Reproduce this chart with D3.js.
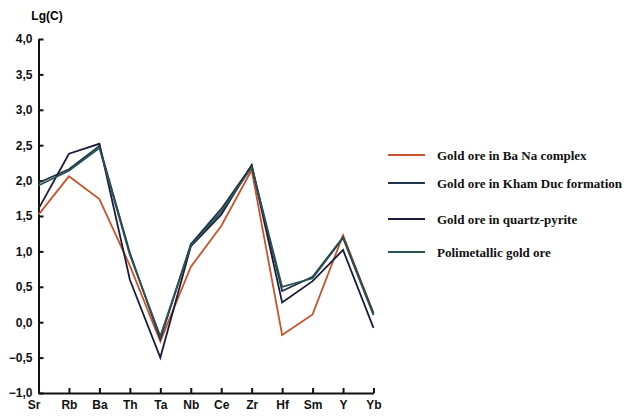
<!DOCTYPE html>
<html>
<head>
<meta charset="utf-8">
<script src="https://cdn.jsdelivr.net/npm/d3@7"></script>
<style>
body { margin:0; background:#fff; }
.axis text { font-family:"Liberation Sans", Arial, sans-serif; font-weight:bold; font-size:12px; fill:#111; }
.axis path, .axis line { stroke:#111; stroke-width:2; }
.legend text { font-family:"Liberation Serif", "Times New Roman", serif; font-weight:bold; font-size:13px; fill:#111; }
</style>
</head>
<body>
<div id="chart"></div>
<script>
var elements = ["Sr","Rb","Ba","Th","Ta","Nb","Ce","Zr","Hf","Sm","Y","Yb"]
var yTicks = [-1,-0.5,0,0.5,1,1.5,2,2.5,3,3.5,4]

var seriesNames = ["Gold ore in Ba Na complex","Gold ore in Kham Duc formation","Gold ore in quartz-pyrite","Polimetallic gold ore"]
var seriesColors = ["#c9532b","#1f3549","#1b1d3c","#2c5354"]

var baNa        = [1.52, 2.06, 1.74, 0.80, -0.27, 0.78, 1.36, 2.15, -0.18, 0.11, 1.23, 0.13]
var khamDuc     = [1.97, 2.16, 2.49, 0.98, -0.24, 1.10, 1.60, 2.21, 0.44, 0.64, 1.20, 0.12]
var quartzPyr   = [1.60, 2.38, 2.52, 0.60, -0.50, 1.07, 1.52, 2.22, 0.28, 0.58, 1.02, -0.08]
var polimetal   = [1.93, 2.14, 2.46, 0.95, -0.20, 1.08, 1.56, 2.19, 0.50, 0.62, 1.19, 0.10]

var series = [baNa, khamDuc, quartzPyr, polimetal]

var width = 629, height = 418
var svg = d3.select("#chart").append("svg").attr("width",width).attr("height",height)

var x = d3.scalePoint().domain(elements).range([38.5,373.5])
var y = d3.scaleLinear().domain([-1,4]).range([393,39])

var fmt = function(d){ return d3.format(".1f")(d).replace(".",",") }

// y axis, ticks pointing inward
var yAxis = svg.append("g").attr("class","axis").attr("transform","translate("+x("Sr")+",0)")
	.call(d3.axisLeft(y).tickValues(yTicks).tickFormat(fmt).tickSizeInner(-5).tickSizeOuter(0).tickPadding(6))

// x axis
var xAxis = svg.append("g").attr("class","axis").attr("transform","translate(0,"+y(-1)+")")
	.call(d3.axisBottom(x).tickSizeInner(-5).tickSizeOuter(0).tickPadding(7))
xAxis.selectAll(".tick").filter(function(d){return d=="Sr"}).select("line").remove()
xAxis.selectAll(".tick").filter(function(d){return d=="Sr"}).select("text").attr("x",-5)

svg.append("text").text("Lg(C)")
	.attr("x",47).attr("y",20)
	.attr("text-anchor","middle")
	.style("font-family","Liberation Sans, Arial, sans-serif")
	.style("font-weight","bold").style("font-size","12px")

var line = d3.line().x(function(d,i){return x(elements[i])}).y(function(d){return y(d)})

series.forEach(function(s,i){
	svg.append("path").datum(s)
	.attr("d",line)
	.attr("fill","none")
	.attr("stroke",seriesColors[i])
	.attr("stroke-width",1.8)
	.attr("stroke-linejoin","miter")
})

// legend
var legendY = [155,183,219,252]
var legend = svg.append("g").attr("class","legend")
seriesNames.forEach(function(name,i){
	legend.append("line")
	.attr("x1",388).attr("x2",425)
	.attr("y1",legendY[i]).attr("y2",legendY[i])
	.attr("stroke",seriesColors[i]).attr("stroke-width",1.8)
	legend.append("text").text(name)
	.attr("x",437).attr("y",legendY[i]).attr("dy","0.35em")
})
</script>
</body>
</html>
